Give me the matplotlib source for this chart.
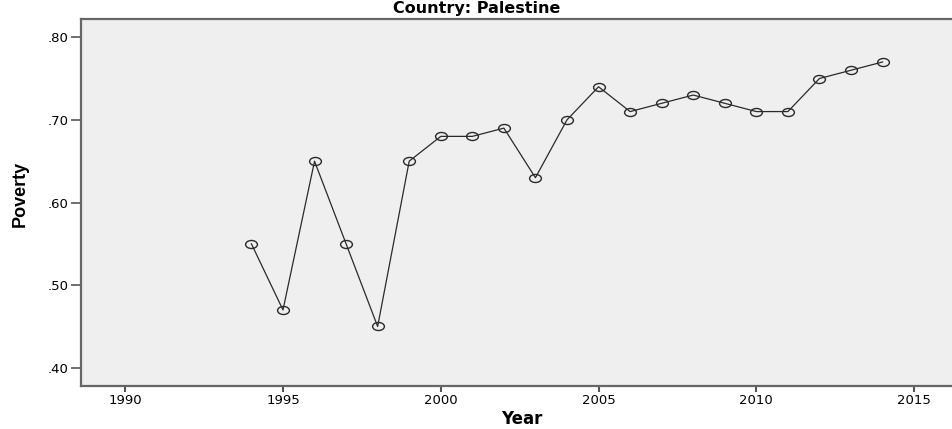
import os
import matplotlib
matplotlib.use("Agg")
import matplotlib.pyplot as plt
from matplotlib.font_manager import FontProperties
from matplotlib.path import Path
from matplotlib.transforms import Affine2D

years = [1994, 1995, 1996, 1997, 1998, 1999, 2000, 2001, 2002, 2003, 2004,
         2005, 2006, 2007, 2008, 2009, 2010, 2011, 2012, 2013, 2014]
poverty = [0.55, 0.47, 0.65, 0.55, 0.45, 0.65, 0.68, 0.68, 0.69, 0.63, 0.70,
           0.74, 0.71, 0.72, 0.73, 0.72, 0.71, 0.71, 0.75, 0.76, 0.77]
x_ticks = [1990, 1995, 2000, 2005, 2010, 2015]
y_ticks = [0.40, 0.50, 0.60, 0.70, 0.80]
y_labels = [".40", ".50", ".60", ".70", ".80"]

plt.rcParams["font.family"] = ["DejaVu Sans"]

ttf_dir = os.path.join(matplotlib.get_data_path(), "fonts", "ttf")
wide_bold = os.path.join(ttf_dir, "DejaVuSans-Bold.ttf")

fig = plt.figure(figsize=(9.52, 4.29), dpi=100)
ax = fig.add_axes([81 / 952, 1 - 386 / 429, 1 - 81 / 952, (386 - 19) / 429])
ax.set_facecolor("#efefef")

# SPSS-style flattened circle marker
ellipse = Path.unit_circle().transformed(Affine2D().scale(1, 0.68))
ax.plot(years, poverty, color="#2a2a2a", lw=0.9, marker=ellipse, ms=8.5,
        mfc="none", mec="#2a2a2a", mew=1.0)

ax.set_xlim(1988.6, 2016.2)
ax.set_ylim(0.378, 0.822)
ax.set_xticks(x_ticks)
ax.set_yticks(y_ticks)
ax.set_yticklabels(y_labels)
ax.tick_params(axis="x", labelsize=9.5, length=4.5, width=1.5, pad=1.5, color="#555555")
ax.tick_params(axis="y", labelsize=9.5, length=7.5, width=1.2, pad=1.5, color="#555555")

for side in ["left", "bottom", "top"]:
    ax.spines[side].set_color("#666666")
    ax.spines[side].set_linewidth(1.6)
ax.spines["right"].set_visible(False)

if os.path.exists(wide_bold):
    title_fp = FontProperties(fname=wide_bold, size=11.5)
    xlab_fp = FontProperties(fname=wide_bold, size=12)
else:
    title_fp = FontProperties(family="DejaVu Sans", weight="bold", size=11.5)
    xlab_fp = FontProperties(family="DejaVu Sans", weight="bold", size=12)

fig.text(477 / 952, 1 - 13 / 429, "Country: Palestine", ha="center", va="baseline",
         fontproperties=title_fp)
fig.text(522 / 952, 1 - 424 / 429, "Year", ha="center", va="baseline",
         fontproperties=xlab_fp)
fig.text(20 / 952, 1 - 194 / 429, "Poverty", ha="center", va="center",
         rotation=90, fontsize=13, fontweight="bold",
         family=["Liberation Sans", "DejaVu Sans"])

fig.savefig("out.png", dpi=100)
